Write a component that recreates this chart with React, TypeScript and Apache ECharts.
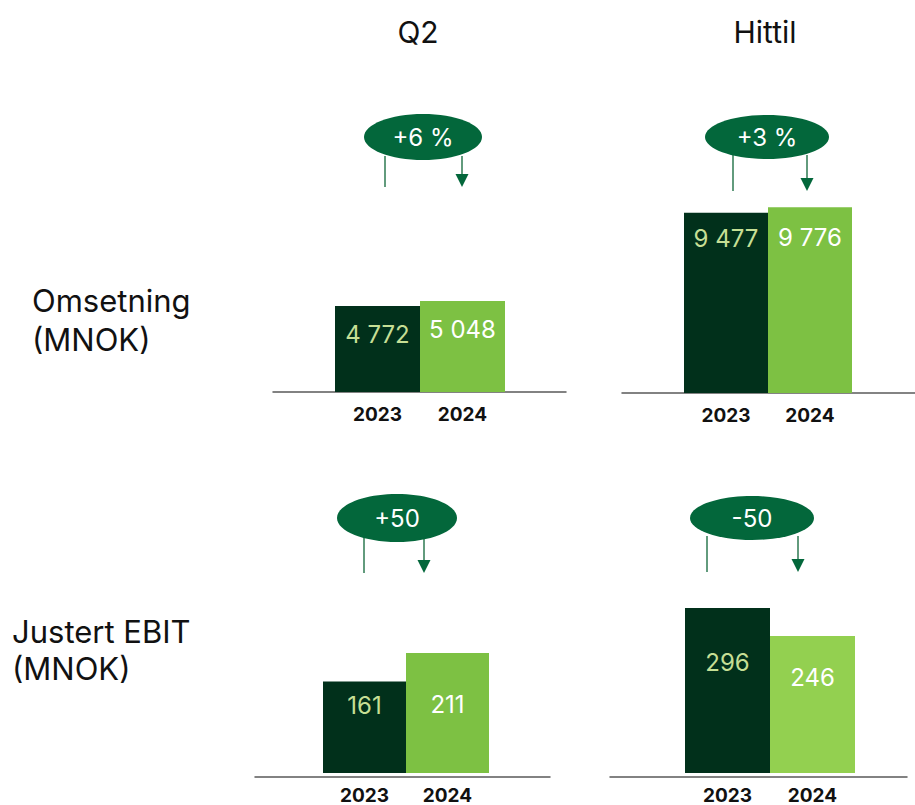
import React, { useEffect, useRef } from "react";
import * as echarts from "echarts";

const categories = ["2023", "2024"];
const omsetningQ2 = [4772, 5048];
const omsetningHittil = [9477, 9776];
const ebitQ2 = [161, 211];
const ebitHittil = [296, 246];
const changeLabels = ["+6 %", "+3 %", "+50", "-50"];
const columnTitles = ["Q2", "Hittil"];
const rowTitles = [
  ["Omsetning", "(MNOK)"],
  ["Justert EBIT", "(MNOK)"],
];

const DARK = "#01301B";
const OVAL = "#03673B";
const LINE = "#2E7A52";
const FONT = "Inter, 'Noto Sans', sans-serif";

const fmt = (v: number) => String(v).replace(/\B(?=(\d{3})+(?!\d))/g, " ");

const panels = [
  {
    values: omsetningQ2,
    bar: { left: 335, width: 170, top: 200, height: 192 },
    axis: { left: 273, width: 293 },
    yMax: 10656,
    light: "#7DC143",
    labelDist: [16, 16],
    oval: { cx: 423, cy: 137, rx: 59, ry: 23 },
    leftX: 385,
    arrowX: 462,
    lineBottom: 187,
  },
  {
    values: omsetningHittil,
    bar: { left: 684, width: 168, top: 200, height: 193 },
    axis: { left: 622, width: 293 },
    yMax: 10152,
    light: "#7DC143",
    labelDist: [14, 18],
    oval: { cx: 767, cy: 137, rx: 62, ry: 22 },
    leftX: 733,
    arrowX: 807,
    lineBottom: 191,
  },
  {
    values: ebitQ2,
    bar: { left: 323, width: 166, top: 600, height: 177 },
    axis: { left: 255, width: 295 },
    yMax: 304,
    light: "#7DC143",
    labelDist: [12, 40],
    oval: { cx: 397, cy: 518, rx: 60, ry: 24 },
    leftX: 364,
    arrowX: 424,
    lineBottom: 573,
  },
  {
    values: ebitHittil,
    bar: { left: 685, width: 170, top: 600, height: 177 },
    axis: { left: 610, width: 297 },
    yMax: 310.5,
    light: "#93D050",
    labelDist: [42, 30],
    oval: { cx: 752, cy: 518, rx: 62, ry: 22 },
    leftX: 707,
    arrowX: 798,
    lineBottom: 572,
  },
];

export default function App() {
  const ref = useRef<HTMLDivElement>(null);

  useEffect(() => {
    if (!ref.current) return;
    const chart = echarts.init(ref.current, undefined, { renderer: "svg" });

    const grids: any[] = [];
    const xAxes: any[] = [];
    const yAxes: any[] = [];
    const series: any[] = [];
    const graphic: any[] = [];

    panels.forEach((p, i) => {
      // grid for the baseline (wide)
      grids.push({ left: p.axis.left, width: p.axis.width, top: p.bar.top, height: p.bar.height });
      xAxes.push({
        gridIndex: 2 * i,
        type: "category",
        data: [""],
        axisLine: { show: true, lineStyle: { color: "#5a5a5a", width: 1.5 } },
        axisTick: { show: false },
        axisLabel: { show: false },
      });
      yAxes.push({ gridIndex: 2 * i, type: "value", min: 0, max: p.yMax, show: false });
      // grid for bars
      grids.push({ left: p.bar.left, width: p.bar.width, top: p.bar.top, height: p.bar.height });
      xAxes.push({
        gridIndex: 2 * i + 1,
        type: "category",
        data: categories,
        axisLine: { show: false },
        axisTick: { show: false },
        axisLabel: {
          show: true,
          margin: 13,
          color: "#111",
          fontSize: 19,
          fontWeight: "bold",
          fontFamily: FONT,
        },
      });
      yAxes.push({ gridIndex: 2 * i + 1, type: "value", min: 0, max: p.yMax, show: false });
      series.push({
        type: "bar",
        xAxisIndex: 2 * i + 1,
        yAxisIndex: 2 * i + 1,
        barCategoryGap: "0%",
        z: 1,
        data: p.values.map((v, j) => ({
          value: v,
          itemStyle: { color: j === 0 ? DARK : p.light },
          label: {
            show: true,
            position: "insideTop",
            distance: p.labelDist[j],
            formatter: () => fmt(v),
            color: j === 0 ? "#C6DF95" : "#FFFFFF",
            fontSize: 24,
            lineHeight: 24,
            fontFamily: FONT,
          },
        })),
      });

      // change indicator
      const o = p.oval;
      graphic.push({
        type: "line",
        shape: { x1: p.leftX, y1: o.cy + o.ry - 4, x2: p.leftX, y2: p.lineBottom },
        style: { stroke: LINE, lineWidth: 1.5 },
      });
      graphic.push({
        type: "line",
        shape: { x1: p.arrowX, y1: o.cy + o.ry - 4, x2: p.arrowX, y2: p.lineBottom - 10 },
        style: { stroke: LINE, lineWidth: 1.5 },
      });
      graphic.push({
        type: "polygon",
        shape: {
          points: [
            [p.arrowX - 6.5, p.lineBottom - 13],
            [p.arrowX + 6.5, p.lineBottom - 13],
            [p.arrowX, p.lineBottom],
          ],
        },
        style: { fill: OVAL },
      });
      graphic.push({
        type: "ellipse",
        shape: { cx: o.cx, cy: o.cy, rx: o.rx, ry: o.ry },
        style: { fill: OVAL },
        z: 10,
      });
      graphic.push({
        type: "text",
        x: o.cx,
        y: o.cy,
        z: 11,
        style: {
          text: changeLabels[i],
          fill: "#FFFFFF",
          font: `24px ${FONT}`,
          align: "center",
          verticalAlign: "middle",
        },
      });
    });

    // column titles
    [418, 765].forEach((x, i) => {
      graphic.push({
        type: "text",
        x,
        y: 32,
        style: {
          text: columnTitles[i],
          fill: "#111",
          font: `30px ${FONT}`,
          align: "center",
          verticalAlign: "middle",
        },
      });
    });
    // row titles
    const rowPos = [
      { x: 32, y: [300, 339] },
      { x: 12, y: [631, 668] },
    ];
    rowPos.forEach((r, i) => {
      rowTitles[i].forEach((t, k) => {
        graphic.push({
          type: "text",
          x: r.x,
          y: r.y[k],
          style: {
            text: t,
            fill: "#111",
            font: `31px ${FONT}`,
            align: "left",
            verticalAlign: "middle",
          },
        });
      });
    });

    chart.setOption({
      animation: false,
      backgroundColor: "#ffffff",
      grid: grids,
      xAxis: xAxes,
      yAxis: yAxes,
      series,
      graphic,
    });

    return () => chart.dispose();
  }, []);

  return (
    <div
      ref={ref}
      style={{ position: "fixed", left: 0, top: 0, width: 915, height: 805 }}
    />
  );
}
